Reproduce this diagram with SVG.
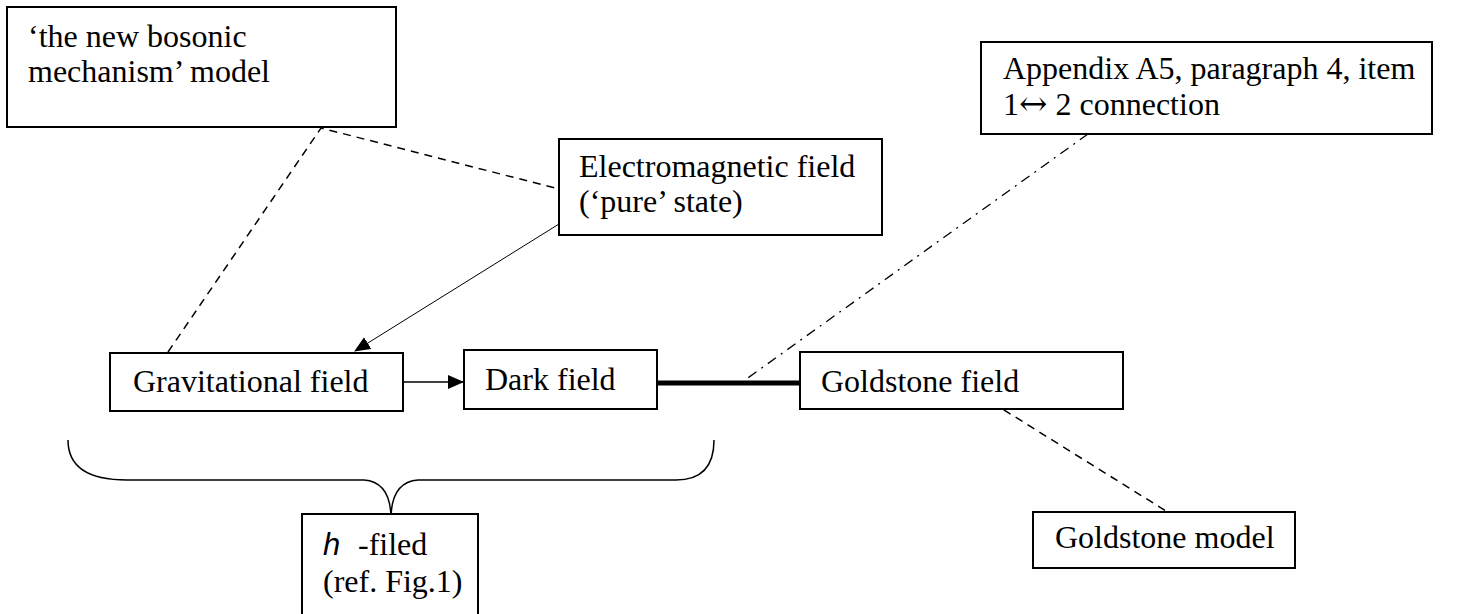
<svg xmlns="http://www.w3.org/2000/svg" width="1468" height="614" viewBox="0 0 1468 614">
<style>
.box{fill:#fff;stroke:#000;stroke-width:2}
.t{font-family:"Liberation Serif","Times New Roman",serif;font-size:32px;fill:#000}
.dash{fill:none;stroke:#000;stroke-width:1.5;stroke-dasharray:8 6}
.dashdot{fill:none;stroke:#000;stroke-width:1.3;stroke-dasharray:10 6 2 6}
.thin{fill:none;stroke:#000;stroke-width:1}
</style>
<defs>
<marker id="ah" markerWidth="16" markerHeight="14" refX="15" refY="7" orient="auto" markerUnits="userSpaceOnUse">
<path d="M0,0 L16,7 L0,14 Z" fill="#000"/>
</marker>
</defs>
<g id="connectors">
<path class="dash" d="M168,352 L321,128 L559,189"/>
<path class="thin" d="M559,224 L355,351" marker-end="url(#ah)"/>
<path d="M403,382 L463,382" stroke="#000" stroke-width="1.5" marker-end="url(#ah)"/>
<path d="M657,383 L800,383" stroke="#000" stroke-width="5"/>
<path class="dashdot" d="M1088,134 L745,380"/>
<path class="dash" d="M980,395 L1166,511"/>
<path d="M68,440 Q68,480 127,480 L364,480 Q391,482 391,519 Q391,482 418,480 L676,480 Q714,480 714,440" fill="none" stroke="#000" stroke-width="1.5"/>
</g>
<g id="n-bosonic">
<rect class="box" x="7" y="7" width="389" height="120"/>
<text class="t" x="28" y="47">‘the new bosonic</text>
<text class="t" x="28" y="82">mechanism’ model</text>
</g>
<g id="n-em">
<rect class="box" x="559" y="139" width="323" height="96"/>
<text class="t" x="579" y="177">Electromagnetic field</text>
<text class="t" x="579" y="212">(‘pure’ state)</text>
</g>
<g id="n-appendix">
<rect class="box" x="981" y="42" width="451" height="92"/>
<text class="t" x="1003" y="79">Appendix A5, paragraph 4, item</text>
<text class="t" x="1003" y="115">1<tspan style="font-family:'DejaVu Serif',serif;font-size:34px">↔</tspan> 2 connection</text>
</g>
<g id="n-grav">
<rect class="box" x="110" y="353" width="293" height="58"/>
<text class="t" x="133" y="392">Gravitational field</text>
</g>
<g id="n-dark">
<rect class="box" x="464" y="350" width="193" height="59"/>
<text class="t" x="485" y="390">Dark field</text>
</g>
<g id="n-goldstone-field">
<rect class="box" x="800" y="352" width="323" height="57"/>
<text class="t" x="821" y="392">Goldstone field</text>
</g>
<g id="n-goldstone-model">
<rect class="box" x="1033" y="512" width="262" height="56"/>
<text class="t" x="1055" y="548">Goldstone model</text>
</g>
<g id="n-h">
<rect class="box" x="302" y="514" width="176" height="110"/>
<text x="323" y="555" style="font-family:'Liberation Sans',Arial,sans-serif;font-style:italic;font-size:31px">h</text>
<text class="t" x="358" y="555">-filed</text>
<text class="t" x="323" y="592">(ref. Fig.1)</text>
</g>
</svg>
